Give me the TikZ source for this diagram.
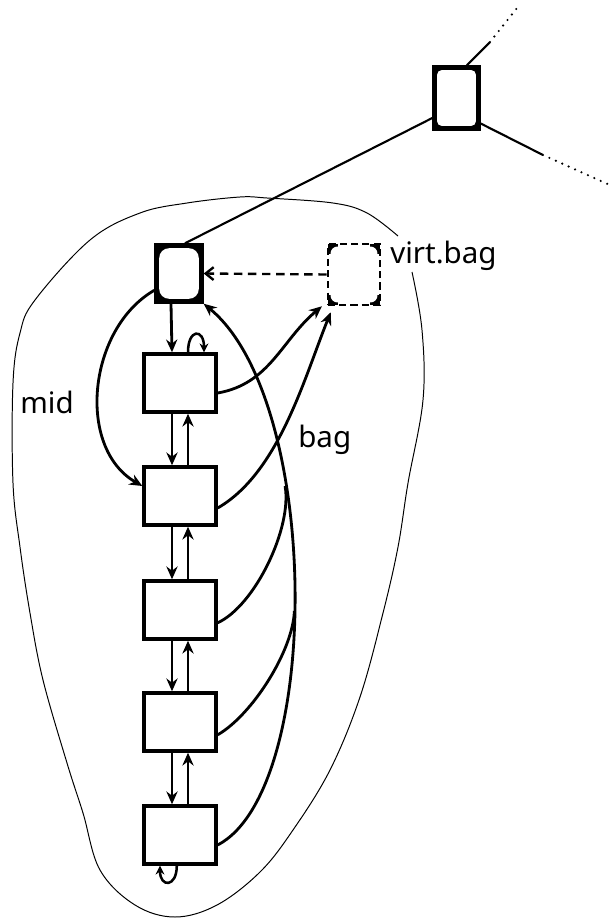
\documentclass[tikz,border=0pt]{standalone}
\usepackage{fontspec}
\setmainfont{Noto Sans}
\usetikzlibrary{arrows.meta,calc}
\tikzset{
  blk/.style={draw,line width=2.4pt,minimum width=1.8cm,minimum height=1.45cm,inner sep=0pt},
  hd/.style={draw,line width=1pt,inner sep=0pt,
    path picture={\fill[black] (path picture bounding box.south west) rectangle (path picture bounding box.north east);
      \fill[white,rounded corners=#1] ([shift={(3pt,3pt)}]path picture bounding box.south west)
        rectangle ([shift={(-3pt,-3pt)}]path picture bounding box.north east);}},
  hd/.default=7pt,
  vrt/.style={draw,line width=1.8pt,dash pattern=on 5pt off 3pt,inner sep=0pt,
    path picture={\fill[black] (path picture bounding box.south west) rectangle (path picture bounding box.north east);
      \fill[white] ([yshift=7pt]path picture bounding box.south west) rectangle ([yshift=-7pt]path picture bounding box.north east);
      \fill[white] ([xshift=7pt]path picture bounding box.south west) rectangle ([xshift=-7pt]path picture bounding box.north east);
      \fill[white,rounded corners=5pt] ([shift={(1.8pt,1.8pt)}]path picture bounding box.south west)
        rectangle ([shift={(-1.8pt,-1.8pt)}]path picture bounding box.north east);}},
  ar/.style ={-{Stealth[length=3.2mm,width=2.8mm]},line width=2pt},
  sar/.style={-{Stealth[length=2.2mm,width=2.2mm]},line width=1.8pt},
  dar/.style={-{Straight Barb[length=2mm,width=3.2mm]},line width=1.7pt,dash pattern=on 6pt off 4pt},
  ln/.style ={line width=2pt},
  tl/.style ={line width=1.5pt},
  dts/.style={line width=1.7pt,line cap=round,dash pattern=on 0pt off 5pt},
  rim/.style={line width=.7pt},
  lbl/.style={font=\fontsize{21}{24}\selectfont,anchor=base west,inner sep=0pt},
}

\begin{document}
\begin{tikzpicture}[x=0.025cm,y=-0.025cm]
  \useasboundingbox (0,0) rectangle (612,922);
  % outline of the bag
  \draw[rim] plot[smooth,tension=.6] coordinates {(412,272) (422,330) (423,400) (408,483) (398,547)
    (383,613) (360,697) (330,770) (293,830) (260,872) (217,905) (175,917) (135,905) (100,870)
    (83,813) (67,763) (43,680) (30,613) (20,547) (13,483) (13,383) (20,333) (35,300) (90,240)
    (140,213) (187,203) (240,197) (267,198) (333,203) (367,213) (398,236)};
  % tree part
  \node[hd=3pt,minimum width=1.175cm,minimum height=1.6cm] (top) at (456.5,98) {};
  \node[hd,minimum width=1.2cm,minimum height=1.475cm] (root) at (179,273.5) {};
  \node[vrt,minimum width=1.3cm,minimum height=1.525cm] (virt) at (354,274.5) {};
  \coordinate (u1) at (490,42);  \coordinate (u2) at (517,8);
  \coordinate (d1) at (543,155); \coordinate (d2) at (612,186);
  \draw[tl] ([xshift=0.26cm]top.north) -- (u1);
  \draw[dts] (u1) -- (u2);
  \draw[tl] ([yshift=0.18cm]top.south east) -- (d1);
  \draw[dts] (d1) -- (d2);
  \draw[tl] ([xshift=0.15cm]root.north) -- ([yshift=-0.5cm]top.west);
  \draw[dar] (virt.west) -- (root.east);
  % list of blocks
  \foreach \i/\y in {1/383,2/496,3/610,4/722,5/835}
    \node[blk] (b\i) at (180,\y) {};
  \draw[ar] ([xshift=-0.2cm]root.south) -- ([xshift=-0.2cm]b1.north);
  \foreach \i/\j in {1/2,2/3,3/4,4/5}{
    \draw[ar] ([xshift=-0.2cm]b\i.south) -- ([xshift=-0.2cm]b\j.north);
    \draw[ar] ([xshift=0.2cm]b\j.north) -- ([xshift=0.2cm]b\i.south);
  }
  \draw[sar] ([xshift=0.2cm]b1.north) .. controls +(0,-24) and +(0,-24) .. ([xshift=0.6cm]b1.north);
  \draw[sar] ([xshift=-0.08cm]b5.south) .. controls +(0,22) and +(0,22) .. ([xshift=-0.5cm]b5.south);
  \draw[ar] ([yshift=-0.42cm]root.west) to[out=210,in=150] ([yshift=0.25cm]b2.west);
  % bag pointers
  \draw[ar] ([yshift=-0.25cm]b1.east) to[out=10,in=-140] ([xshift=-0.12cm]virt.south west);
  \draw[ar] ([yshift=-0.3cm]b2.east) to[out=30,in=-112,looseness=.8] ([xshift=0.1cm,yshift=-0.15cm]virt.south west);
  \draw[ar] ([yshift=-0.25cm]b5.east) .. controls +(105,-55) and +(118,97) .. (root.south east)
    coordinate[pos=.65] (j3) coordinate[pos=.47] (j4);
  \draw[ln] ([yshift=-0.32cm]b3.east) to[out=25,in=-80,looseness=.7] (j3);
  \draw[ln] ([yshift=-0.32cm]b4.east) to[out=30,in=-92,looseness=.7] (j4);
  % labels
  \node[lbl] (vlab) at (390,263) {virt.bag};
  \node[lbl] (mlab) at (20,413) {mid};
  \node[lbl] (blab) at (298,447) {bag};
\end{tikzpicture}
\end{document}
